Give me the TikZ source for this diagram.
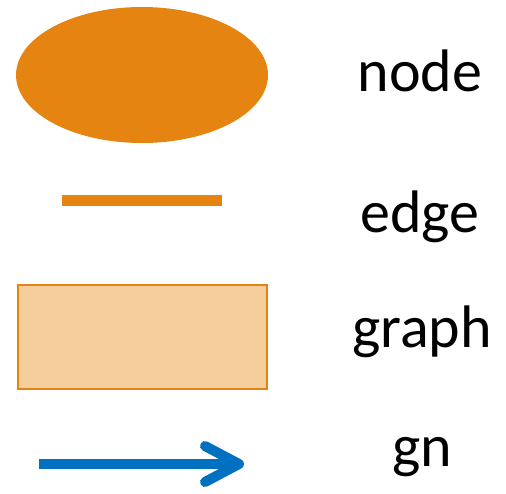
\documentclass[tikz,border=0pt]{standalone}
\usepackage{fontspec}
\setmainfont{Carlito}
\usetikzlibrary{shapes.geometric}
\definecolor{legorange}{RGB}{230,132,18}
\definecolor{legfill}{RGB}{246,205,157}
\definecolor{legblue}{RGB}{0,112,192}
\begin{document}
\begin{tikzpicture}[x=1pt,y=-1pt,
  label/.style={anchor=base,inner sep=0pt,font=\fontsize{60}{72}\selectfont},
  nodeshape/.style={ellipse,fill=legorange,minimum width=252pt,minimum height=136pt,inner sep=0pt},
  graphshape/.style={rectangle,draw=legorange,fill=legfill,line width=2pt,minimum width=249pt,minimum height=104pt,inner sep=0pt},
  edgeline/.style={draw=legorange,line width=11pt},
  gnarrow/.style={draw=legblue,line width=10pt},
  gnhead/.style={draw=legblue,line width=10pt,line cap=round,line join=round}]
\useasboundingbox (0,0) rectangle (506,493);
\node[nodeshape] (n) at (142,75) {};
\node[graphshape] (g) at (142.5,337) {};
\coordinate (e1) at (62,200.5);
\coordinate (e2) at (222,200.5);
\draw[edgeline] (e1) -- (e2);
\coordinate (a1) at (39,464);
\coordinate (a2) at (236,464);
\coordinate (h1) at (205,446);
\coordinate (h2) at (239,464);
\coordinate (h3) at (205,482);
\draw[gnarrow] (a1) -- (a2);
\draw[gnhead] (h1) -- (h2) -- (h3);
\node[label] (tn) at (420,91) {node};
\node[label] (te) at (420,232) {edge};
\node[label] (tg) at (422,347) {graph};
\node[label] (tgn) at (422,466) {gn};
\end{tikzpicture}
\end{document}
